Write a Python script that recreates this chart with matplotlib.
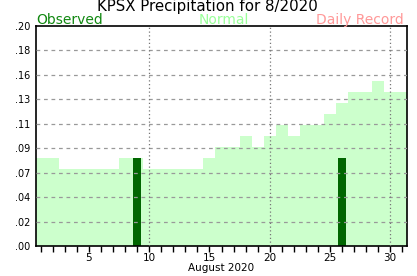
import numpy as np
import matplotlib
matplotlib.use("Agg")
import matplotlib.pyplot as plt

# Daily values for August 2020 (inches)
days = np.arange(1, 32)
normal = [0.08, 0.08, 0.07, 0.07, 0.07, 0.07, 0.07, 0.08, 0.08, 0.07,
          0.07, 0.07, 0.07, 0.07, 0.08, 0.09, 0.09, 0.10, 0.09, 0.10,
          0.11, 0.10, 0.11, 0.11, 0.12, 0.13, 0.14, 0.14, 0.15, 0.14,
          0.14]
obs_days = [9, 26]
observed = [0.08, 0.08]

ytick_vals = np.linspace(0, 0.2, 10)
ytick_labels = [".00", ".02", ".04", ".07", ".09", ".11", ".13", ".16", ".18", ".20"]
xtick_vals = [5, 10, 15, 20, 25, 30]

fig = plt.figure(figsize=(4.17, 2.76), dpi=100)
ax = fig.add_axes([36 / 417, 1 - 246 / 276, 371 / 417, 220 / 276])

# Normal as light green step bars
ax.bar(days, normal, width=1.0, color="#ccffcc", edgecolor="none", zorder=1)
# Observed precipitation
ax.bar(obs_days, observed, width=0.64, color="#006600", edgecolor="none", zorder=2)

# grid lines
for y in ytick_vals[1:-1]:
    ax.axhline(y, color="#999999", linestyle=(0, (3, 3)), linewidth=0.9, zorder=3)
for x in [10, 20, 30]:
    ax.axvline(x, color="#777777", linestyle=(0, (1, 2)), linewidth=0.9, zorder=3)

ax.set_xlim(0.6, 31.4)
ax.set_ylim(0, 0.2)
ax.set_yticks(ytick_vals)
ax.set_yticklabels(ytick_labels, fontsize=7)
ax.set_xticks(xtick_vals)
ax.set_xticklabels([str(v) for v in xtick_vals], fontsize=7.5)
ax.set_xticks(days, minor=True)
ax.tick_params(axis="y", length=0, pad=4)
ax.tick_params(axis="x", which="both", length=4, width=1, direction="out", pad=1)
for s in ax.spines.values():
    s.set_linewidth(1.2)

fig.text(221 / 417, 1 - 271 / 276, "August 2020", ha="center", va="baseline", fontsize=7.5)

fig.text(207 / 417, 1 - 11 / 276, "KPSX Precipitation for 8/2020", ha="center",
         va="baseline", fontsize=10.8)
fig.text(36 / 417, 1 - 24 / 276, "Observed", ha="left", va="baseline",
         fontsize=10, color="#118811")
fig.text(224 / 417, 1 - 24 / 276, "Normal", ha="center", va="baseline",
         fontsize=10, color="#99ff99")
fig.text(404 / 417, 1 - 24 / 276, "Daily Record", ha="right", va="baseline",
         fontsize=10, color="#ff9999")

fig.savefig("out.png", dpi=100)
